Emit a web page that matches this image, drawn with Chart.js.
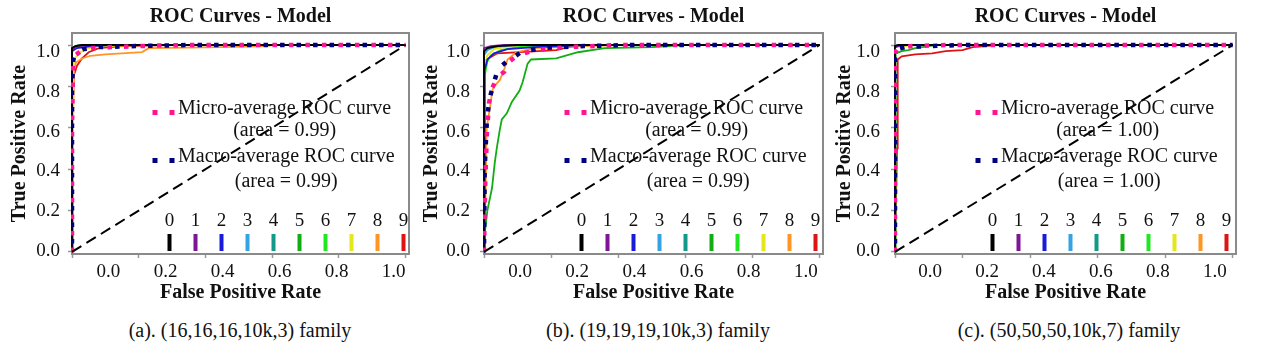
<!DOCTYPE html>
<html>
<head>
<meta charset="utf-8">
<script src="https://cdn.jsdelivr.net/npm/chart.js@4.4.0/dist/chart.umd.min.js"></script>
<style>
  body { margin: 0; background: #fff; width: 1261px; height: 352px; overflow: hidden; position: relative;
         font-family: "Liberation Serif", "Times New Roman", serif; }
  canvas { position: absolute; top: 0; }
  .caption { position: absolute; top: 319px; width: 400px; text-align: center; font-size: 20px; line-height: 22px; color: #111; }
</style>
</head>
<body>
<canvas id="chartA" width="420" height="310" style="left:0px"></canvas>
<canvas id="chartB" width="420" height="310" style="left:410px"></canvas>
<canvas id="chartC" width="441" height="310" style="left:820px"></canvas>
<div class="caption" id="capA" style="left:40px"></div>
<div class="caption" id="capB" style="left:458px"></div>
<div class="caption" id="capC" style="left:869px"></div>

<script>
// class names and their colours (nipy_spectral style)
const classNames = ['0', '1', '2', '3', '4', '5', '6', '7', '8', '9'];
const classColors = ['#000000', '#7e1496', '#1a1adb', '#34a3e3', '#12998a', '#12ad12', '#22e622', '#e6e61c', '#ff9524', '#de1414'];
const averageNames = ['Micro-average ROC curve', 'Macro-average ROC curve'];
const xTickValues = [0, 0.2, 0.4, 0.6, 0.8, 1.0];
const yTickValues = [0, 0.2, 0.4, 0.6, 0.8, 1.0];
const panelCaptions = ['(a). (16,16,16,10k,3) family', '(b). (19,19,19,10k,3) family', '(c). (50,50,50,10k,7) family'];
const chanceLine = [[0, 0], [1, 1]];

// (a) areas for micro / macro
const areasA = [0.99, 0.99];
// per class [fpr, tpr] points
const rocA = [
  [[0, 0], [0, 0.985], [0.01, 0.995], [0.03, 1], [1, 1]],
  [[0, 0], [0, 0.98], [0.02, 0.995], [0.05, 1], [1, 1]],
  [[0, 0], [0, 0.97], [0.015, 0.985], [0.06, 0.995], [0.12, 1], [1, 1]],
  [[0, 0], [0, 0.975], [0.01, 0.99], [0.04, 1], [1, 1]],
  [[0, 0], [0, 0.98], [0.01, 0.995], [0.03, 1], [1, 1]],
  [[0, 0], [0, 0.97], [0.01, 0.99], [0.03, 1], [1, 1]],
  [[0, 0], [0, 0.975], [0.005, 0.99], [0.02, 1], [1, 1]],
  [[0, 0], [0.003, 0.9], [0.01, 0.94], [0.025, 0.965], [0.05, 0.985], [0.1, 0.995], [0.2, 1], [1, 1]],
  [[0, 0], [0.003, 0.6], [0.006, 0.88], [0.012, 0.915], [0.03, 0.935], [0.055, 0.948], [0.1, 0.955], [0.21, 0.966], [0.23, 0.985], [0.45, 0.99], [0.58, 0.995], [0.6, 1], [1, 1]],
  [[0, 0], [0.002, 0.7], [0.005, 0.85], [0.015, 0.9], [0.03, 0.935], [0.05, 0.965], [0.08, 0.985], [0.15, 0.995], [0.3, 1], [1, 1]]
];
const microA = [[0, 0], [0, 0.6], [0.003, 0.9], [0.01, 0.95], [0.03, 0.975], [0.06, 0.985], [0.12, 0.99], [0.25, 0.997], [0.35, 1], [1, 1]];
const macroA = [[0, 0], [0, 0.8], [0.004, 0.93], [0.012, 0.96], [0.035, 0.98], [0.08, 0.99], [0.2, 0.995], [0.35, 1], [1, 1]];

// (b)
const areasB = [0.99, 0.99];
const rocB = [
  [[0, 0], [0, 0.97], [0.01, 0.985], [0.04, 0.995], [0.1, 1], [1, 1]],
  [[0, 0], [0, 0.985], [0.02, 0.995], [0.06, 1], [1, 1]],
  [[0, 0], [0.002, 0.88], [0.01, 0.93], [0.03, 0.96], [0.07, 0.98], [0.15, 0.99], [0.3, 1], [1, 1]],
  [[0, 0], [0, 0.95], [0.01, 0.975], [0.03, 0.99], [0.08, 1], [1, 1]],
  [[0, 0], [0, 0.96], [0.01, 0.98], [0.04, 0.995], [0.1, 1], [1, 1]],
  [[0, 0], [0.003, 0.1], [0.01, 0.2], [0.024, 0.31], [0.032, 0.43], [0.038, 0.5], [0.047, 0.59], [0.053, 0.64], [0.068, 0.67], [0.083, 0.725], [0.106, 0.78], [0.115, 0.82], [0.13, 0.91], [0.14, 0.93], [0.215, 0.935], [0.28, 0.965], [0.36, 0.985], [0.5, 0.99], [0.6, 1], [1, 1]],
  [[0, 0], [0.002, 0.85], [0.01, 0.92], [0.02, 0.95], [0.05, 0.975], [0.1, 0.99], [0.2, 1], [1, 1]],
  [[0, 0], [0.002, 0.9], [0.01, 0.95], [0.03, 0.98], [0.08, 0.995], [0.15, 1], [1, 1]],
  [[0, 0], [0.005, 0.3], [0.008, 0.6], [0.018, 0.7], [0.025, 0.78], [0.03, 0.8], [0.047, 0.83], [0.062, 0.89], [0.07, 0.93], [0.085, 0.95], [0.097, 0.965], [0.15, 0.985], [0.3, 0.995], [0.4, 1], [1, 1]],
  [[0, 0], [0, 0.92], [0.018, 0.94], [0.04, 0.96], [0.215, 0.975], [0.25, 0.99], [0.3, 1], [1, 1]]
];
const microB = [[0, 0], [0.003, 0.3], [0.009, 0.59], [0.015, 0.72], [0.024, 0.79], [0.04, 0.845], [0.06, 0.87], [0.075, 0.92], [0.1, 0.95], [0.15, 0.975], [0.25, 0.99], [0.4, 1], [1, 1]];
const macroB = [[0, 0], [0.002, 0.4], [0.009, 0.65], [0.018, 0.75], [0.038, 0.865], [0.053, 0.9], [0.068, 0.92], [0.086, 0.937], [0.11, 0.966], [0.17, 0.985], [0.3, 0.995], [0.45, 1], [1, 1]];

// (c)
const areasC = [1.00, 1.00];
const rocC = [
  [[0, 0], [0, 0.995], [0.01, 1], [1, 1]],
  [[0, 0], [0, 0.99], [0.015, 1], [1, 1]],
  [[0, 0], [0, 0.99], [0.02, 1], [1, 1]],
  [[0, 0], [0, 0.995], [0.01, 1], [1, 1]],
  [[0, 0], [0, 0.99], [0.01, 1], [1, 1]],
  [[0, 0], [0.002, 0.96], [0.02, 0.97], [0.04, 0.975], [0.06, 0.985], [0.08, 0.99], [0.12, 1], [1, 1]],
  [[0, 0], [0, 0.995], [0.01, 1], [1, 1]],
  [[0, 0], [0, 0.99], [0.03, 0.995], [0.05, 1], [1, 1]],
  [[0, 0], [0, 0.99], [0.02, 1], [1, 1]],
  [[0, 0], [0.006, 0.5], [0.008, 0.93], [0.02, 0.945], [0.06, 0.955], [0.11, 0.96], [0.15, 0.97], [0.2, 0.975], [0.23, 0.99], [0.3, 1], [1, 1]]
];
const microC = [[0, 0], [0, 0.9], [0.003, 0.97], [0.01, 0.985], [0.05, 0.995], [0.15, 1], [1, 1]];
const macroC = [[0, 0], [0, 0.95], [0.005, 0.98], [0.03, 0.99], [0.1, 0.995], [0.2, 1], [1, 1]];

const serif = '"Liberation Serif", "Times New Roman", serif';

function toXY(points) {
  return points.map(p => ({ x: p[0], y: p[1] }));
}

// grey box round the plot area
const framePlugin = {
  id: 'frame',
  beforeDatasetsDraw(chart) {
    const { ctx, chartArea: { left, top, width, height } } = chart;
    ctx.save();
    ctx.strokeStyle = '#8a8a8a';
    ctx.lineWidth = 2;
    ctx.strokeRect(left, top, width, height);
    ctx.restore();
  }
};

// micro/macro entries and the 0..9 colour key inside the plot
const rocLegend = {
  id: 'rocLegend',
  afterDraw(chart, args, opts) {
    const { ctx, chartArea: ca } = chart;
    const sets = chart.data.datasets;
    const rowY = [76, 124];
    const areaY = [98, 149];
    ctx.save();
    ctx.textBaseline = 'middle';
    ctx.font = '20px ' + serif;
    [1, 2].forEach((di, k) => {
      const ds = sets[di];
      const y = ca.top + rowY[k];
      ctx.fillStyle = ds.borderColor;
      [83, 100].forEach(mx => ctx.fillRect(ca.left + mx - 2.5, y + 1, 5, 5));
      ctx.fillStyle = '#111';
      ctx.textAlign = 'left';
      ctx.fillText(ds.label, ca.left + 106, y);
      const w = ctx.measureText(ds.label).width;
      ctx.textAlign = 'center';
      ctx.fillText('(area = ' + opts.areas[k].toFixed(2) + ')', ca.left + 106 + w / 2, ca.top + areaY[k]);
    });
    ctx.font = '19px ' + serif;
    ctx.textAlign = 'center';
    sets.slice(3).forEach((ds, i) => {
      const x = ca.left + 97.5 + i * 26;
      ctx.fillStyle = '#111';
      ctx.fillText(ds.label, x, ca.top + 188);
      ctx.fillStyle = ds.borderColor;
      ctx.fillRect(x - 2, ca.top + 201, 4, 17);
    });
    ctx.restore();
  }
};

function buildChart(canvasId, curves, micro, macro, areas, lay) {
  const datasets = [
    { label: 'chance', data: toXY(chanceLine), borderColor: '#000', borderWidth: 2, borderDash: [11, 6], order: 0 },
    { label: averageNames[0], data: toXY(micro), borderColor: '#ff1493', borderWidth: 4.5, borderDash: [4.5, 12], order: 2 },
    { label: averageNames[1], data: toXY(macro), borderColor: '#000080', borderWidth: 4.5, borderDash: [4.5, 12], borderDashOffset: 8, order: 1 }
  ];
  curves.forEach((c, i) => {
    datasets.push({ label: classNames[i], data: toXY(c), borderColor: classColors[i], borderWidth: 1.8, order: 3 + i });
  });
  datasets.forEach(ds => { ds.xAxisID = 'x'; ds.yAxisID = 'y'; ds.pointRadius = 0; ds.clip = 1; ds.fill = false; });

  const tickFont = { family: serif, size: 19 };
  const titleFont = { family: serif, size: 20, weight: 'bold' };

  return new Chart(document.getElementById(canvasId), {
    type: 'line',
    data: { datasets: datasets },
    options: {
      responsive: false,
      animation: false,
      events: [],
      layout: { padding: { left: 0, right: lay.padRight, top: 0, bottom: 4 } },
      elements: { line: { tension: 0 } },
      plugins: {
        legend: { display: false },
        tooltip: { enabled: false },
        title: {
          display: true, text: 'ROC Curves - Model', fullSize: false,
          font: { family: serif, size: 20, weight: 'bold' }, color: '#111',
          padding: { top: 5, bottom: 4 }
        },
        rocLegend: { areas: areas }
      },
      scales: {
        x: {
          type: 'linear', position: 'bottom', weight: 0, min: 0, max: 1.01,
          grid: { drawOnChartArea: false, drawTicks: true, tickLength: 4, color: '#999', tickWidth: 1.5 },
          border: { display: false },
          ticks: { display: false },
          afterBuildTicks: s => { s.ticks = xTickValues.map(v => ({ value: v })); },
          afterFit: s => { s.height = 4; }
        },
        xLabel: {
          type: 'linear', position: 'bottom', weight: 1, min: lay.xMin, max: lay.xMax,
          grid: { display: false, drawTicks: false },
          border: { display: false },
          ticks: { font: tickFont, color: '#111', padding: 2.6, maxRotation: 0, callback: v => v.toFixed(1) },
          afterBuildTicks: s => { s.ticks = xTickValues.map(v => ({ value: v })); },
          afterFit: s => { s.height = 48; },
          title: { display: true, text: 'False Positive Rate', font: titleFont, color: '#111', padding: { top: 0, bottom: 1 } }
        },
        y: {
          type: 'linear', position: 'left', weight: 0, min: -0.01, max: 1.058,
          grid: { drawOnChartArea: false, drawTicks: true, tickLength: 4, color: '#999', tickWidth: 1.5 },
          border: { display: false },
          ticks: { display: false },
          afterBuildTicks: s => { s.ticks = yTickValues.map(v => ({ value: v })); },
          afterFit: s => { s.width = 4; }
        },
        yLabel: {
          type: 'linear', position: 'left', weight: 1, min: -0.015, max: 1.095,
          grid: { display: false, drawTicks: false },
          border: { display: false },
          ticks: { font: tickFont, color: '#111', padding: lay.tickPad, callback: v => v.toFixed(1) },
          afterBuildTicks: s => { s.ticks = yTickValues.map(v => ({ value: v })); },
          afterFit: s => { s.width = lay.yWidth; },
          title: { display: true, text: 'True Positive Rate', font: titleFont, color: '#111', padding: { top: lay.titlePad, bottom: 0 } }
        }
      }
    },
    plugins: [framePlugin, rocLegend]
  });
}

buildChart('chartA', rocA, microA, macroA, areasA, { yWidth: 68, tickPad: 8, titlePad: 8, padRight: 11, xMin: -0.128, xMax: 1.054 });
buildChart('chartB', rocB, microB, macroB, areasB, { yWidth: 70, tickPad: 10, titlePad: 10, padRight: 7, xMin: -0.126, xMax: 1.060 });
buildChart('chartC', rocC, microC, macroC, areasC, { yWidth: 71, tickPad: 11, titlePad: 13, padRight: 25, xMin: -0.123, xMax: 1.074 });

document.getElementById('capA').textContent = panelCaptions[0];
document.getElementById('capB').textContent = panelCaptions[1];
document.getElementById('capC').textContent = panelCaptions[2];
</script>
</body>
</html>
